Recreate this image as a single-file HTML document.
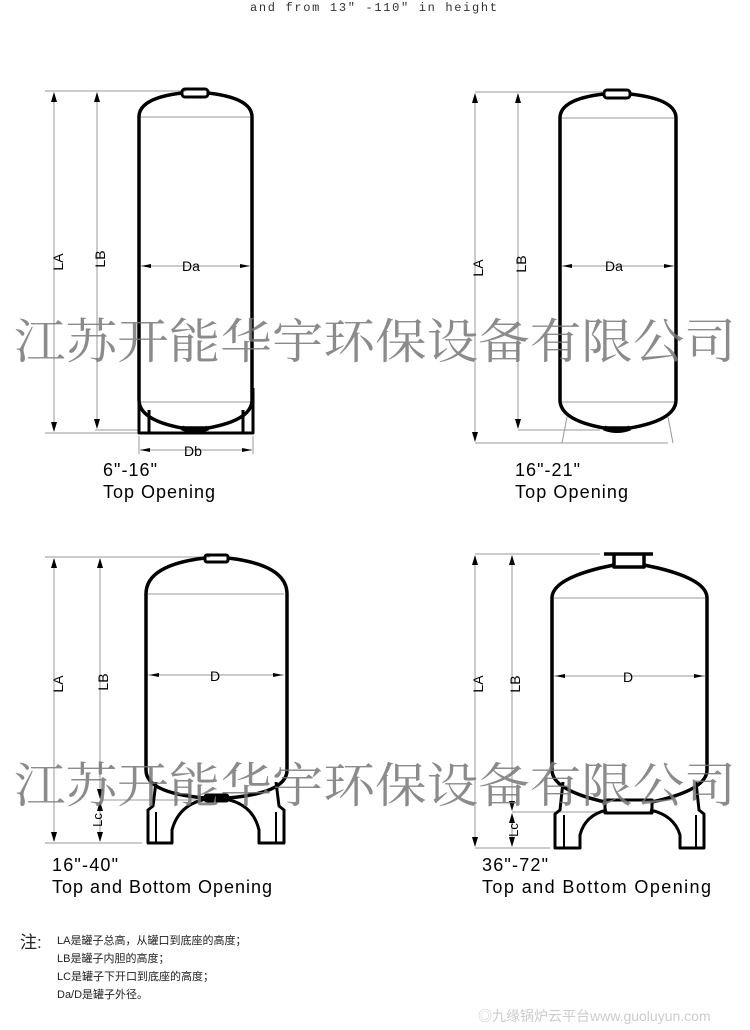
<!DOCTYPE html>
<html><head><meta charset="utf-8"><style>
html,body{margin:0;padding:0;background:#fff;}
body{width:750px;height:1030px;overflow:hidden;position:relative;}
svg{position:absolute;left:0;top:0;}
</style></head><body>
<svg width="750" height="1030" viewBox="0 0 750 1030" xmlns="http://www.w3.org/2000/svg">
<text x="250" y="11" font-family="Liberation Mono, monospace" font-size="12" fill="#333" textLength="247" lengthAdjust="spacing">and from 13" -110" in height</text>

<g fill="none" stroke="#999" stroke-width="1">
<line x1="45" y1="91" x2="186" y2="91"/><line x1="45" y1="433" x2="140" y2="433"/><line x1="95" y1="430" x2="140" y2="430"/>
<line x1="54" y1="93" x2="54" y2="431"/><line x1="97" y1="93" x2="97" y2="428"/>
<line x1="141" y1="266" x2="250" y2="266"/><line x1="140" y1="450" x2="252" y2="450"/>
<line x1="139" y1="436" x2="139" y2="454"/><line x1="253" y1="436" x2="253" y2="454"/>
<line x1="141" y1="117" x2="250" y2="117"/><line x1="141" y1="402" x2="250" y2="402"/>
<line x1="475" y1="92" x2="602" y2="92"/><line x1="475" y1="443" x2="668" y2="443"/><line x1="518" y1="430" x2="600" y2="430"/>
<line x1="475" y1="94" x2="475" y2="441"/><line x1="518" y1="94" x2="518" y2="428"/>
<line x1="562" y1="266" x2="674" y2="266"/>
<line x1="562" y1="118" x2="674" y2="118"/><line x1="562" y1="402" x2="674" y2="402"/>
<line x1="567" y1="417" x2="562" y2="443"/><line x1="668" y1="417" x2="673" y2="443"/>
<line x1="45" y1="557" x2="210" y2="557"/><line x1="45" y1="843" x2="142" y2="843"/><line x1="100" y1="800" x2="200" y2="800"/>
<line x1="54" y1="559" x2="54" y2="841"/><line x1="100" y1="559" x2="100" y2="798"/><line x1="100" y1="802" x2="100" y2="841"/>
<line x1="148" y1="675" x2="284" y2="675"/><line x1="148" y1="594" x2="284" y2="594"/>
<line x1="475" y1="554" x2="600" y2="554"/><line x1="475" y1="848" x2="550" y2="848"/><line x1="512" y1="812" x2="605" y2="812"/>
<line x1="475" y1="556" x2="475" y2="846"/><line x1="512" y1="556" x2="512" y2="810"/><line x1="512" y1="814" x2="512" y2="846"/>
<line x1="554" y1="676" x2="705" y2="676"/><line x1="554" y1="598" x2="705" y2="598"/>
</g>

<g fill="#000">
<path d="M54 92 l-3 10 h6z M54 432 l-3 -10 h6z M97 92 l-3 10 h6z M97 429 l-3 -10 h6z"/>
<path d="M475 93 l-3 10 h6z M475 442 l-3 -10 h6z M518 93 l-3 10 h6z M518 429 l-3 -10 h6z"/>
<path d="M54 558 l-3 10 h6z M54 842 l-3 -10 h6z M100 558 l-3 10 h6z M100 799 l-3 -10 h6z M100 801 l-3 10 h6z M100 842 l-3 -10 h6z"/>
<path d="M475 555 l-3 10 h6z M475 847 l-3 -10 h6z M512 555 l-3 10 h6z M512 811 l-3 -10 h6z M512 813 l-3 10 h6z M512 847 l-3 -10 h6z"/>
<path d="M141 266 l10 -2 v4z M250 266 l-10 -2 v4z M140 450 l10 -2 v4z M252 450 l-10 -2 v4z"/>
<path d="M562 266 l10 -2 v4z M674 266 l-10 -2 v4z"/>
<path d="M149 675 l10 -2 v4z M283 675 l-10 -2 v4z M555 676 l10 -2 v4z M704 676 l-10 -2 v4z"/>
</g>

<g fill="none" stroke="#000" stroke-width="3.5" stroke-linejoin="round">
<path d="M139 400 V117 Q139 98 182 93 M208 93 Q252 98 252 117 V400 Q252 420 208 428 H182 Q139 420 139 400"/>
<rect x="182" y="89" width="26" height="8" rx="3" stroke-width="3"/>
<path d="M139 388 V433 H253 V388 M149 410 V433 M243 410 V433" stroke-width="3"/>
<path d="M182 428 Q196 433 208 428" stroke-width="5"/>
<path d="M560 400 V118 Q560 99 604 94 M630 94 Q676 99 676 118 V400 Q676 420 630 428 H604 Q560 420 560 400"/>
<rect x="604" y="90" width="26" height="8" rx="3" stroke-width="3"/>
<path d="M604 428 Q617 433 630 428" stroke-width="5"/>
<path d="M146 770 V594 Q146 565 205 558 M228 558 Q287 565 287 594 V770 Q287 793 228 798 H205 Q146 793 146 770"/>
<rect x="205" y="555" width="23" height="7" rx="2" stroke-width="3"/>
<rect x="205" y="795" width="23" height="6" rx="2" stroke-width="3"/>
<path d="M156 782 L153 806 L148 810 V843 H172 V830 Q180 800 216 798 Q252 800 259 830 V843 H284 V810 L279 806 L276 782" stroke-width="3"/>
<path d="M156 812 V843 M276 812 V843" stroke-width="2"/>
<path d="M552 770 V598 Q552 580 600 568 L614 565 M644 565 L658 568 Q707 580 707 598 V770 Q707 790 652 802 M605 802 Q552 790 552 770"/>
<path d="M604 554 H653 M614 555 V567 H644 V555" stroke-width="3.5"/>
<path d="M605 800 H652 V813 H605Z" stroke-width="3"/>
<path d="M563 782 L560 810 L555 814 V848 H580 V835 Q585 815 607 810 M650 810 Q674 815 680 835 V848 H704 V814 L699 810 L696 782" stroke-width="3"/>
<path d="M564 815 V848 M696 815 V848" stroke-width="2"/>
</g>

<g font-family="Liberation Sans, sans-serif" fill="#000">
<text x="182" y="271" font-size="14">Da</text>
<text x="184" y="456" font-size="14">Db</text>
<text x="605" y="271" font-size="14">Da</text>
<text x="210" y="681" font-size="14">D</text>
<text x="623" y="682" font-size="14">D</text>
<text transform="translate(63,262) rotate(-90)" font-size="14" text-anchor="middle">LA</text>
<text transform="translate(105,259) rotate(-90)" font-size="14" text-anchor="middle">LB</text>
<text transform="translate(483,268) rotate(-90)" font-size="14" text-anchor="middle">LA</text>
<text transform="translate(526,264) rotate(-90)" font-size="14" text-anchor="middle">LB</text>
<text transform="translate(63,684) rotate(-90)" font-size="14" text-anchor="middle">LA</text>
<text transform="translate(108,682) rotate(-90)" font-size="14" text-anchor="middle">LB</text>
<text transform="translate(102,820) rotate(-90)" font-size="13" text-anchor="middle">Lc</text>
<text transform="translate(483,684) rotate(-90)" font-size="14" text-anchor="middle">LA</text>
<text transform="translate(520,684) rotate(-90)" font-size="14" text-anchor="middle">LB</text>
<text transform="translate(518,830) rotate(-90)" font-size="13" text-anchor="middle">Lc</text>
<g font-size="18">
<text x="103" y="476" textLength="54">6"-16"</text><text x="103" y="498" textLength="112">Top Opening</text>
<text x="515" y="476" textLength="65">16"-21"</text><text x="515" y="498" textLength="113">Top Opening</text>
<text x="52" y="871" textLength="66">16"-40"</text><text x="52" y="893" textLength="220">Top and Bottom Opening</text>
<text x="482" y="871" textLength="66">36"-72"</text><text x="482" y="893" textLength="229">Top and Bottom Opening</text>
</g>
</g>

<g font-family="Liberation Serif, 'Noto Serif CJK SC', serif" font-size="48" fill="#777" fill-opacity="0.85">
<text x="14" y="358" textLength="722" lengthAdjust="spacingAndGlyphs">江苏开能华宇环保设备有限公司</text>
<text x="14" y="802" textLength="722" lengthAdjust="spacingAndGlyphs">江苏开能华宇环保设备有限公司</text>
</g>

<g font-family="Liberation Sans, 'Noto Sans CJK SC', sans-serif" fill="#222">
<text x="20" y="948" font-size="17">注:</text>
<g font-size="11">
<text x="57" y="944">LA是罐子总高，从罐口到底座的高度；</text>
<text x="57" y="962">LB是罐子内胆的高度；</text>
<text x="57" y="980">LC是罐子下开口到底座的高度；</text>
<text x="57" y="998">Da/D是罐子外径。</text>
</g>
</g>
<text x="478" y="1021" font-family="Liberation Sans, 'Noto Sans CJK SC', sans-serif" font-size="14" fill="#ccc">◎九缘锅炉云平台www.guoluyun.com</text>
</svg>
</body></html>
